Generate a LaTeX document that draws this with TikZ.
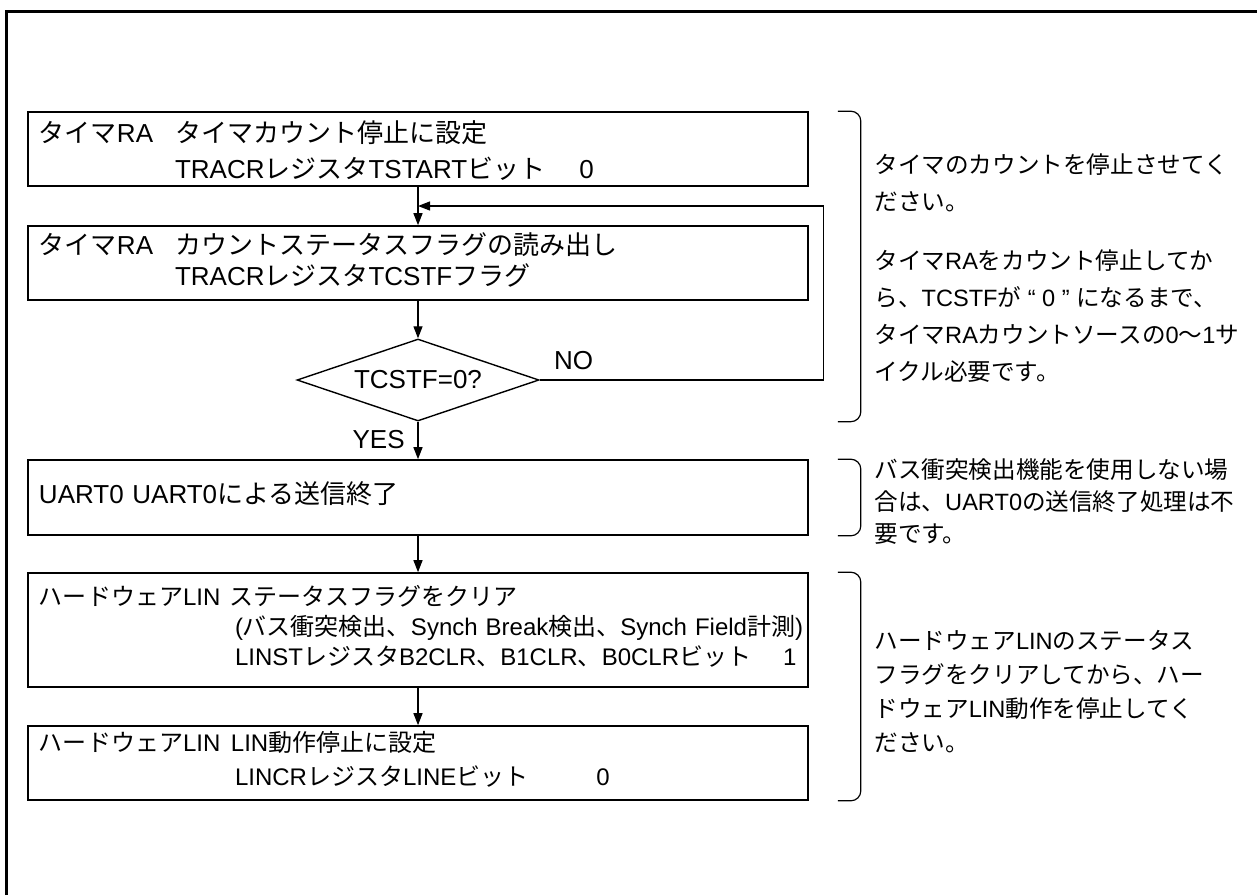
\documentclass[tikz,border=0pt]{standalone}
\usepackage{fontspec}
\usepackage{tikz}
\usetikzlibrary{shapes.geometric, arrows.meta, positioning, calc}
\setmainfont{Liberation Sans}
\newfontfamily\jpfont{Noto Sans CJK JP}
\newcommand{\latinfont}{\rmfamily}
% Japanese characters switch to the CJK font
\XeTeXinterchartokenstate=1
\newXeTeXintercharclass\jpclass
\newcount\jpcode
\newcommand{\setjprange}[2]{%
  \jpcode=#1\relax
  \loop
    \XeTeXcharclass\jpcode=\jpclass
  \ifnum\jpcode<#2\relax
    \advance\jpcode by 1\relax
  \repeat}
\setjprange{"3000}{"30FF}
\setjprange{"4E00}{"9FFF}
\setjprange{"FF00}{"FFEF}
\XeTeXinterchartoks 0 \jpclass = {\jpfont}
\XeTeXinterchartoks 4095 \jpclass = {\jpfont}
\XeTeXinterchartoks \jpclass 0 = {\latinfont}
\XeTeXinterchartoks \jpclass 4095 = {\latinfont}
\tikzset{
  procbox/.style={rectangle, draw, line width=0.8pt, text width=379pt,
    inner xsep=5.5pt, inner ysep=0pt, align=left,
    execute at begin node={\lineskiplimit=-20pt},
    execute at end node={\par\kern3.5pt}},
  decision/.style={diamond, draw, line width=0.7pt, shape aspect=3,
    minimum width=121pt, minimum height=41pt, inner sep=0pt,
    font=\fontsize{13pt}{15pt}\selectfont},
  lbl/.style={inner sep=0pt, font=\fontsize{13pt}{15pt}\selectfont},
  note/.style={anchor=north west, inner sep=0pt, align=left,
    execute at begin node={\lineskiplimit=-20pt}},
  arrow/.style={-{Triangle[length=6pt,width=4.5pt]}, line width=0.6pt},
  bracket/.style={line width=0.6pt, rounded corners=5pt},
  frame/.style={line width=1.5pt}
}
\begin{document}
\begin{tikzpicture}[x=0.5pt, y=-0.5pt, node distance=18.75pt]
  \useasboundingbox (0,0) rectangle (1257,895);
  % Frame
  \draw[frame] (6.5,895) -- (6.5,11) -- (1257,11);

  % Timer RA
  \node[procbox, minimum height=37pt, font=\fontsize{13pt}{18pt}\selectfont,
    execute at end node={\kern-5pt}] (tstop) at (418,149)
    {\makebox[68pt][l]{タイマRA}タイマカウント停止に設定\\
     \hspace*{68pt}TRACRレジスタTSTARTビット\hspace{17pt}0};
  \node[procbox, minimum height=37pt, below=19.2pt of tstop, font=\fontsize{13pt}{15.5pt}\selectfont] (tread)
    {\makebox[68pt][l]{タイマRA}カウントステータスフラグの読み出し\\
     \hspace*{68pt}TRACRレジスタTCSTFフラグ};
  \node[decision, below=of tread] (dec) {TCSTF=0?};

  % UART0
  \node[procbox, minimum height=37.5pt, below=of dec, font=\fontsize{13pt}{15pt}\selectfont] (uend)
    {UART0 UART0による送信終了};

  % Hardware LIN
  \node[procbox, minimum height=57pt, below=18.2pt of uend, font=\fontsize{12pt}{15pt}\selectfont] (lclr)
    {\makebox[95pt][l]{ハードウェアLIN}ステータスフラグをクリア\\
     \hspace*{98pt}\mbox{(バス衝突検出、Synch Break検出、Synch Field計測)}\\
     \hspace*{98pt}LINSTレジスタB2CLR、B1CLR、B0CLRビット\hspace{16pt}1};
  \node[procbox, minimum height=37pt, below=18.7pt of lclr, font=\fontsize{12pt}{17pt}\selectfont] (lstop)
    {\makebox[96pt][l]{ハードウェアLIN}LIN動作停止に設定\\
     \hspace*{98pt}LINCRレジスタLINEビット\hspace{34pt}0};

  % Labels
  \node[lbl, anchor=south west] (no) at ([xshift=7pt,yshift=5pt]dec.east) {NO};
  \node[lbl, anchor=south east] (yes) at ([xshift=-6.5pt,yshift=-13.5pt]dec.south) {YES};

  % Connectors
  \draw[arrow] (tstop) -- (tread);
  \draw[arrow] (tread) -- (dec);
  \draw[arrow] (dec) -- (uend);
  \draw[arrow] (uend) -- (lclr);
  \draw[arrow] (lclr) -- (lstop);
  \coordinate (loopR) at ([xshift=142pt]dec.east);
  \coordinate (loopT) at ($(tstop.south)!0.5!(tread.north)$);
  \draw[arrow] (dec.east) -- (loopR) |- (loopT);

  % Notes
  \node[note, font=\fontsize{11.8pt}{18.5pt}\selectfont] (ntimer) at (874,153)
    {タイマのカウントを停止させてく\\
     ださい。\\[11pt]
     タイマRAをカウント停止してか\\
     ら、TCSTFが “ 0 ” になるまで、\\
     タイマRAカウントソースの0～1サ\\
     イクル必要です。};
  \node[note, font=\fontsize{11.8pt}{16pt}\selectfont] (nuart) at (874,458)
    {バス衝突検出機能を使用しない場\\
     合は、UART0の送信終了処理は不\\
     要です。};
  \node[note, font=\fontsize{11.8pt}{17pt}\selectfont] (nlin) at (874,630)
    {ハードウェアLINのステータス\\
     フラグをクリアしてから、ハー\\
     ドウェアLIN動作を停止してく\\
     ださい。};

  % Brackets
  \draw[bracket] ([xshift=14.5pt]tstop.north east) -| ([xshift=26pt]tstop.east |- dec.south)
    -- ([xshift=14.5pt]tstop.east |- dec.south);
  \draw[bracket] ([xshift=14.5pt]uend.north east) -| ([xshift=26pt]uend.south east)
    -- ([xshift=14.5pt]uend.south east);
  \draw[bracket] ([xshift=14.5pt]lclr.north east) -| ([xshift=26pt]lstop.south east)
    -- ([xshift=14.5pt]lstop.south east);
\end{tikzpicture}
\end{document}
